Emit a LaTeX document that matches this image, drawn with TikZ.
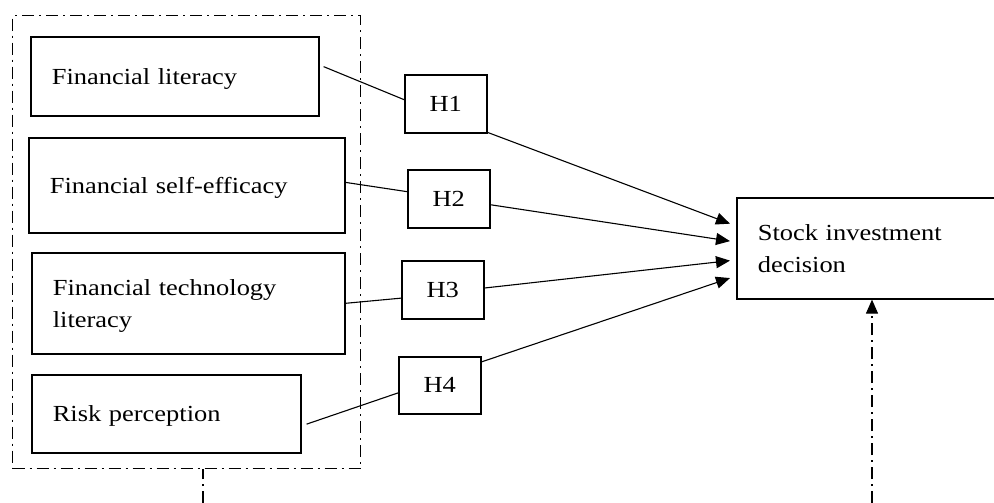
\documentclass[tikz,border=0pt]{standalone}
\usepackage{fontspec}
\setmainfont{Liberation Serif}[FakeStretch=1.15]
\usetikzlibrary{arrows.meta,calc}
\begin{document}
\begin{tikzpicture}[x=1pt,y=-1pt,
  varbox/.style={draw,line width=1.6pt,anchor=north west,inner xsep=21pt,inner ysep=0pt,
    align=left,text depth=0pt,font=\fontsize{23}{32}\selectfont},
  twoline/.style={text depth=32pt},
  hbox/.style={draw,line width=1.6pt,anchor=north west,inner sep=0pt,
    minimum width=82pt,minimum height=58pt,font=\fontsize{23}{32}\selectfont},
  conn/.style={line width=1.1pt},
  arr/.style={line width=1.1pt,-{Triangle[length=14pt,width=12pt]}},
  dashdot/.style={line width=1.1pt,dash pattern=on 12pt off 5pt on 2pt off 5pt}]
\useasboundingbox (0,0) rectangle (994,503);
\clip (0,0) rectangle (994,503);
% group box
\node[dashdot,draw,anchor=north west,inner sep=0pt,minimum width=348pt,minimum height=453pt] (grp) at (12,15) {};
% variable boxes
\node[varbox,text width=246pt,minimum height=79pt] (b1) at (30,36) {Financial literacy};
\node[varbox,text width=274pt,minimum height=95pt] (b2) at (28,137) {Financial self-efficacy};
\node[varbox,twoline,text width=271pt,minimum height=101pt] (b3) at (31,252) {Financial technology\\literacy};
\node[varbox,text width=227pt,minimum height=78pt] (b4) at (31,374) {Risk perception};
% hypothesis boxes
\node[hbox] (h1) at (404,74) {H1};
\node[hbox] (h2) at (407,169) {H2};
\node[hbox] (h3) at (401,260) {H3};
\node[hbox,minimum height=57pt] (h4) at (398,356) {H4};
% outcome
\node[varbox,twoline,text width=238pt,minimum height=101pt] (st) at (736,197) {Stock investment\\decision};
% connectors
\draw[conn] ($(b1.north east)!0.38!(b1.south east)+(4,0)$) -- ($(h1.north west)!0.43!(h1.south west)$);
\draw[conn] ($(b2.north east)!0.47!(b2.south east)$) -- ($(h2.north west)!0.38!(h2.south west)$);
\draw[conn] ($(b3.north east)!0.5!(b3.south east)$) -- ($(h3.north west)!0.64!(h3.south west)$);
\draw[conn] ($(b4.north east)!0.63!(b4.south east)+(5,0)$) -- ($(h4.north west)!0.63!(h4.south west)$);
\draw[arr] ($(h1.north east)!0.98!(h1.south east)$) -- ($(st.north west)!0.26!(st.south west)+(-6,0)$);
\draw[arr] ($(h2.north east)!0.6!(h2.south east)$) -- ($(st.north west)!0.43!(st.south west)+(-6,0)$);
\draw[arr] ($(h3.north east)!0.47!(h3.south east)$) -- ($(st.north west)!0.62!(st.south west)+(-6,0)$);
\draw[arr] ($(h4.north east)!0.1!(h4.south east)$) -- ($(st.north west)!0.79!(st.south west)+(-6,0)$);
% dash-dot lines
\coordinate (g1) at (203,503);
\draw[dashdot] (g1) -- (g1 |- grp.south);
\coordinate (s1) at (872,503);
\draw[dashdot,-{Triangle[length=14pt,width=12pt]}] (s1) -- (s1 |- st.south);
\end{tikzpicture}
\end{document}
